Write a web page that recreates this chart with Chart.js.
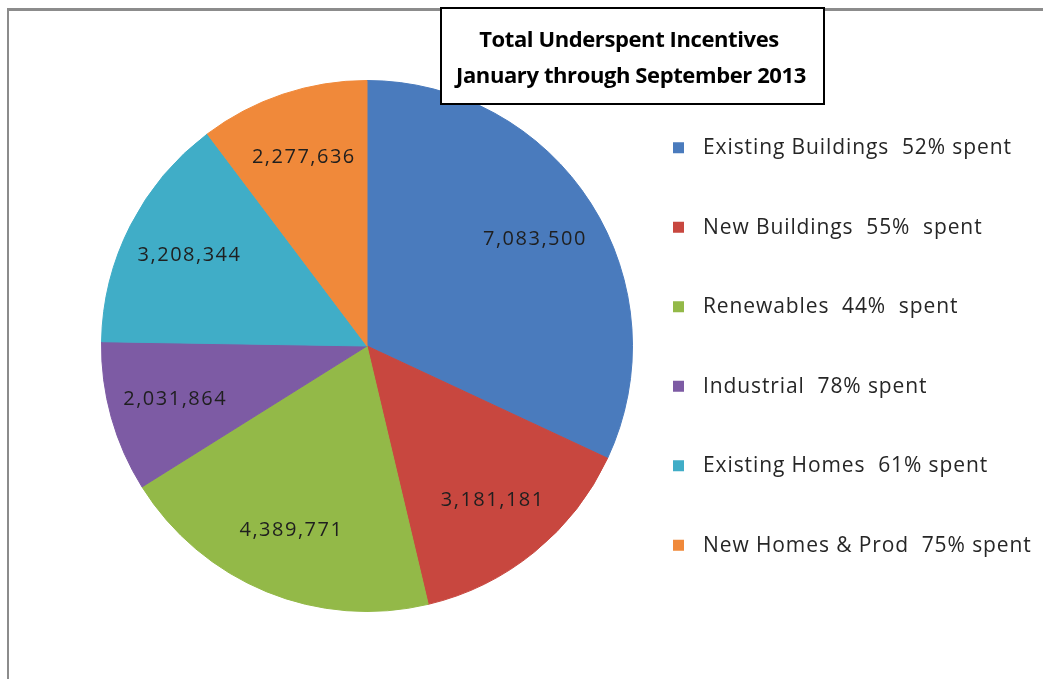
<!DOCTYPE html>
<html>
<head>
<meta charset="utf-8">
<title>Total Underspent Incentives</title>
<script src="https://cdn.jsdelivr.net/npm/chart.js@4.4.0/dist/chart.umd.min.js"></script>
<style>
  html, body { margin: 0; padding: 0; background: #fff; overflow: hidden; }
  canvas { display: block; }
</style>
</head>
<body>
<canvas id="incentivesChart" width="1043" height="679"></canvas>
<script>
// Underspent incentive dollars by program, Jan - Sep 2013
const programs = ['Existing Buildings', 'New Buildings', 'Renewables', 'Industrial', 'Existing Homes', 'New Homes & Prod'];
const underspent = [7083500, 3181181, 4389771, 2031864, 3208344, 2277636];
const legendLabels = [
    'Existing Buildings  52% spent',
    'New Buildings  55%  spent',
    'Renewables  44%  spent',
    'Industrial  78% spent',
    'Existing Homes  61% spent',
    'New Homes & Prod  75% spent'
];
const sliceColors = ['#4a7bbd', '#c8473f', '#93b948', '#7d5ba4', '#40adc7', '#f0893a'];
const titleLines = ['Total Underspent Incentives', 'January through September 2013'];

// Gray frame along the top and left edge
const frame = {
    id: 'frame',
    beforeDraw(chart) {
        const ctx = chart.ctx;
        ctx.save();
        ctx.fillStyle = '#ffffff';
        ctx.fillRect(0, 0, chart.width, chart.height);
        ctx.fillStyle = '#8c8c8c';
        ctx.fillRect(7, 8, chart.width - 7, 3);
        ctx.fillRect(7, 8, 2, chart.height - 8);
        ctx.restore();
    }
};

// Value labels inside each slice
const sliceLabels = {
    id: 'sliceLabels',
    afterDatasetsDraw(chart) {
        const ctx = chart.ctx;
        const meta = chart.getDatasetMeta(0);
        ctx.save();
        ctx.font = '20px "Open Sans"';
        ctx.letterSpacing = '1.5px';
        ctx.fillStyle = '#1f1f1f';
        ctx.textAlign = 'center';
        ctx.textBaseline = 'middle';
        meta.data.forEach((arc, i) => {
            const p = arc.getProps(['x', 'y', 'startAngle', 'endAngle', 'outerRadius'], true);
            const mid = (p.startAngle + p.endAngle) / 2;
            const r = p.outerRadius * 0.75;
            ctx.fillText(underspent[i].toLocaleString('en-US'), p.x + Math.cos(mid) * r, p.y + Math.sin(mid) * r);
        });
        ctx.restore();
    }
};

// Legend on the right, one row per program
const sideLegend = {
    id: 'sideLegend',
    afterDraw(chart) {
        const ctx = chart.ctx;
        const area = chart.chartArea;
        const colors = chart.data.datasets[0].backgroundColor;
        const rowGap = 79.5;
        const midY = (area.top + area.bottom) / 2;
        const boxX = area.right + 40;
        ctx.save();
        ctx.font = '21px "Open Sans"';
        ctx.letterSpacing = '0.9px';
        ctx.textBaseline = 'middle';
        ctx.textAlign = 'left';
        legendLabels.forEach((text, i) => {
            const y = midY + (i - (legendLabels.length - 1) / 2) * rowGap;
            ctx.fillStyle = colors[i];
            ctx.fillRect(boxX, y - 5, 11, 11);
            ctx.fillStyle = '#262626';
            ctx.fillText(text, boxX + 30, y + 1);
        });
        ctx.restore();
    }
};

// Boxed title drawn over the top of the pie
const boxedTitle = {
    id: 'boxedTitle',
    afterDraw(chart) {
        const ctx = chart.ctx;
        ctx.save();
        ctx.fillStyle = '#ffffff';
        ctx.fillRect(440, 7, 385, 98);
        ctx.strokeStyle = '#000000';
        ctx.lineWidth = 2;
        ctx.strokeRect(441, 8, 383, 96);
        ctx.fillStyle = '#000000';
        ctx.font = 'bold 22px "Open Sans"';
        ctx.letterSpacing = '-0.4px';
        ctx.textAlign = 'center';
        ctx.textBaseline = 'alphabetic';
        ctx.fillText(titleLines[0], 629, 47);
        ctx.fillText(titleLines[1], 631, 83);
        ctx.restore();
    }
};

const ctx = document.getElementById('incentivesChart').getContext('2d');
new Chart(ctx, {
    type: 'pie',
    data: {
        labels: programs,
        datasets: [{
            data: underspent,
            backgroundColor: sliceColors,
            borderColor: sliceColors,
            borderWidth: 1
        }]
    },
    options: {
        responsive: false,
        animation: false,
        devicePixelRatio: 1,
        layout: {
            padding: { top: 80, bottom: 67, left: 101, right: 410 }
        },
        plugins: {
            legend: { display: false },
            tooltip: { enabled: false },
            title: { display: false }
        }
    },
    plugins: [frame, sliceLabels, sideLegend, boxedTitle]
});
</script>
</body>
</html>
